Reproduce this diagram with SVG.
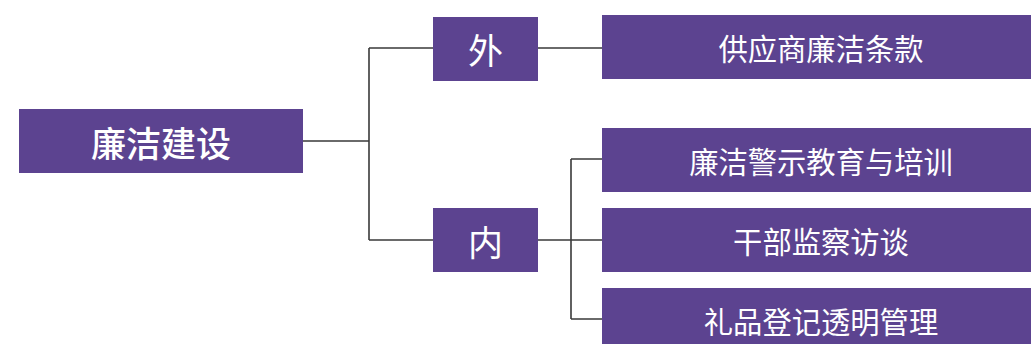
<svg xmlns="http://www.w3.org/2000/svg" width="1031" height="344" viewBox="0 0 1031 344">
<style>
.box{fill:#5c4390}
.t{fill:#ffffff;font-family:"Noto Sans CJK SC","Noto Sans",sans-serif;text-anchor:middle;dominant-baseline:central}
.big{font-size:35px;font-weight:500}
.mid{font-size:35px}
.leaf{font-size:29.3px}
.c{fill:none;stroke:#3a3a3a;stroke-width:1.6}
</style>
<rect width="1031" height="344" fill="#ffffff"/>
<g id="connectors">
<path class="c" d="M303 141H369M369 48V240M369 48H433M369 240H433M538 48H602M538 240H602M571 159V319M571 159H602M571 319H602"/>
</g>
<g id="root"><rect class="box" x="19" y="109" width="284" height="64"/><text class="t big" x="161" y="141">廉洁建设</text></g>
<g id="wai"><rect class="box" x="433" y="17" width="105" height="64"/><text class="t mid" x="485.5" y="48">外</text></g>
<g id="nei"><rect class="box" x="433" y="208" width="105" height="64"/><text class="t mid" x="485.5" y="240">内</text></g>
<g id="leaf1"><rect class="box" x="602" y="15" width="440" height="64"/><text class="t leaf" x="821" y="47">供应商廉洁条款</text></g>
<g id="leaf2"><rect class="box" x="602" y="128" width="440" height="64"/><text class="t leaf" x="821" y="160">廉洁警示教育与培训</text></g>
<g id="leaf3"><rect class="box" x="602" y="208" width="440" height="64"/><text class="t leaf" x="821" y="240">干部监察访谈</text></g>
<g id="leaf4"><rect class="box" x="602" y="288" width="440" height="64"/><text class="t leaf" x="821" y="320">礼品登记透明管理</text></g>
</svg>
